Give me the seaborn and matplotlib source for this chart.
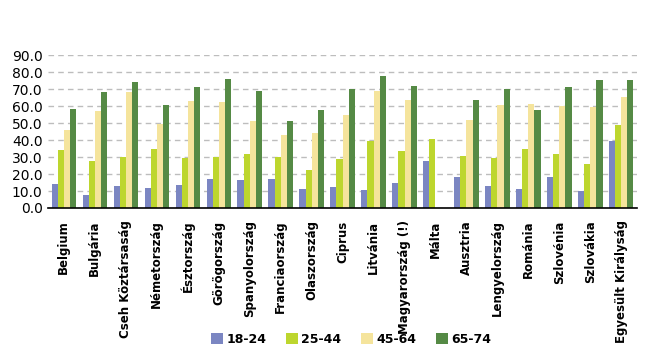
import numpy as np
import pandas as pd
import seaborn as sns
import matplotlib.pyplot as plt
from matplotlib.ticker import FixedLocator

countries = ["Belgium", "Bulgária", "Cseh Köztársaság", "Németország", "Észtország",
             "Görögország", "Spanyolország", "Franciaország", "Olaszország", "Ciprus",
             "Litvánia", "Magyarország (!)", "Málta", "Ausztria", "Lengyelország",
             "Románia", "Szlovénia", "Szlovákia", "Egyesült Királyság"]
age_groups = ["18-24", "25-44", "45-64", "65-74"]

v_18_24 = [14.3, 7.8, 13.1, 12.0, 13.7, 17.3, 16.7, 17.3, 11.4, 12.5,
           10.8, 14.9, 27.8, 18.4, 13.1, 11.4, 18.4, 10.2, 39.6]
v_25_44 = [34.3, 27.8, 30.2, 34.9, 29.6, 30.2, 32.0, 30.2, 22.5, 29.0,
           39.6, 33.7, 40.8, 30.8, 29.6, 34.9, 32.0, 26.1, 49.0]
v_45_64 = [46.1, 57.3, 68.4, 49.6, 63.1, 62.5, 51.4, 43.1, 44.3, 54.9,
           69.0, 63.7, np.nan, 52.0, 60.8, 61.4, 60.2, 59.6, 65.5]
v_65_74 = [58.4, 68.4, 74.3, 60.8, 71.4, 76.1, 69.0, 51.4, 57.8, 70.2,
           77.8, 72.0, np.nan, 63.7, 70.2, 57.8, 71.4, 75.5, 75.5]

colors = ["#7B86C2", "#BDD62E", "#F5E49C", "#558A45"]

df = pd.DataFrame({
    "country": countries * 4,
    "age": np.repeat(age_groups, len(countries)),
    "value": v_18_24 + v_25_44 + v_45_64 + v_65_74,
})

sns.set_style("white")
plt.rcParams['font.family'] = ['DejaVu Sans']

fig = plt.figure(figsize=(6.6, 3.58), dpi=100)
ax = fig.add_axes([0.073, 0.419, 0.892, 0.427])

sns.barplot(data=df, x="country", y="value", hue="age", palette=colors,
            width=0.78, gap=0, saturation=1, linewidth=0, ax=ax, legend=True)

ax.set_ylim(0, 90)
ax.set_xlim(-0.5, len(countries) - 0.5)
ax.set_yticks(np.arange(0, 91, 10))
ax.set_yticklabels([f"{v:.1f}" for v in np.arange(0, 91, 10)], fontsize=10, color="black")
ax.yaxis.grid(True, linestyle=(0, (4, 3)), color="#BDBDBD", linewidth=1)
ax.set_axisbelow(True)
ax.tick_params(axis="y", length=0, pad=4)

ax.set_xticks(range(len(countries)))
ax.set_xticklabels(countries, rotation=90, fontsize=8.5, fontweight="bold", color="black")
ax.tick_params(axis="x", which="major", length=0, pad=9)
ax.xaxis.set_minor_locator(FixedLocator(np.arange(-0.5, len(countries), 1)))
ax.tick_params(axis="x", which="minor", length=5, width=1, color="black", direction="out")

for s in ["top", "right", "left"]:
    ax.spines[s].set_visible(False)
ax.spines["bottom"].set_color("black")
ax.spines["bottom"].set_linewidth(1.2)
ax.set_xlabel("")
ax.set_ylabel("")

ax.legend(loc="center", bbox_to_anchor=(0.515, -0.86), ncol=4, frameon=False,
          prop={"weight": "bold", "size": 9}, handlelength=0.9, handleheight=0.9,
          columnspacing=1.6, handletextpad=0.3, labelcolor="black")

fig.savefig("out.png", dpi=100)
